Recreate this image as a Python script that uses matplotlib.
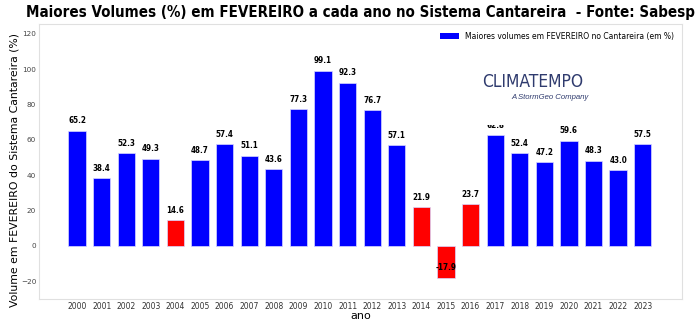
import matplotlib.pyplot as plt
from matplotlib import font_manager
from matplotlib.patches import Rectangle

years = list(range(2000, 2024))
volumes = [65.2, 38.4, 52.3, 49.3, 14.6, 48.7, 57.4, 51.1, 43.6, 77.3, 99.1, 92.3,
           76.7, 57.1, 21.9, -17.9, 23.7, 62.8, 52.4, 47.2, 59.6, 48.3, 43.0, 57.5]
red_years = [2004, 2014, 2015, 2016]

colors = ["red" if y in red_years else "blue" for y in years]

# condensed DejaVu if the system has it
has_cond = any(f.name == "DejaVu Sans" and f.stretch != "normal"
               for f in font_manager.fontManager.ttflist)
stretch = "condensed" if has_cond else "normal"

fig = plt.figure(figsize=(7, 3.22), dpi=100)
ax = fig.add_axes([0.0557, 0.0714, 0.9186, 0.854])

ax.bar(years, volumes, width=0.7, color=colors, edgecolor="#d8d8ff", linewidth=0.5)
# legend entry only for the blue series
ax.bar([0], [0], color="blue", label="Maiores volumes em FEVEREIRO no Cantareira (em %)")

for y, v in zip(years, volumes):
    ax.text(y, v + 3, f"{v:.1f}", ha="center", va="bottom",
            fontsize=5.8, fontweight="bold", color="black", fontstretch=stretch)

ax.set_xlim(1998.45, 2024.6)
ax.set_ylim(-30, 125.5)
ax.set_xticks(years)
ax.set_xticklabels([str(y) for y in years], fontsize=5.5, color="#333333")
ax.set_yticks([-20, 0, 20, 40, 60, 80, 100, 120])
ax.tick_params(axis="y", labelsize=5.2, colors="#444444", length=0, pad=2)
ax.tick_params(axis="x", length=0, pad=2.5)
for s in ax.spines.values():
    s.set_color("#e0e0e0")
    s.set_linewidth(0.8)

ax.set_xlabel("ano", fontsize=8, labelpad=0)
ax.set_ylabel("Volume em FEVEREIRO do Sistema Cantareira (%)", fontsize=7.8)
ax.yaxis.set_label_coords(-0.03, 0.469)

title = fig.text(0.515, 0.96, "Maiores Volumes (%) em FEVEREIRO a cada ano no Sistema Cantareira  - Fonte: Sabesp",
                 fontsize=11, fontweight="bold", ha="center", va="center", fontstretch=stretch)
# fit the title to the width it has in the original
fig.canvas.draw()
w = title.get_window_extent().width
if w > 665:
    title.set_fontsize(11 * 665 / w)

ax.legend(loc="upper right", fontsize=5.5, frameon=False, handlelength=2.5,
          handleheight=0.8, borderaxespad=0.6)

# logo block (white background covers the top of one label, as in the original)
fig.patches.append(Rectangle((0.664, 1 - 125 / 322), 0.207, 67 / 322,
                             transform=fig.transFigure, facecolor="white",
                             edgecolor="none", zorder=5))
fig.text(0.761, 0.745, "CLIMATEMPO", fontsize=12.5, color="#2f3b6e", ha="center",
         va="center", fontfamily="DejaVu Sans", fontstretch=stretch, zorder=6)
fig.text(0.786, 0.696, "A StormGeo Company", fontsize=5.6, color="#2f3b6e", ha="center",
         va="center", style="italic", fontfamily="Liberation Sans", zorder=6)

fig.savefig("out.png", dpi=100)
